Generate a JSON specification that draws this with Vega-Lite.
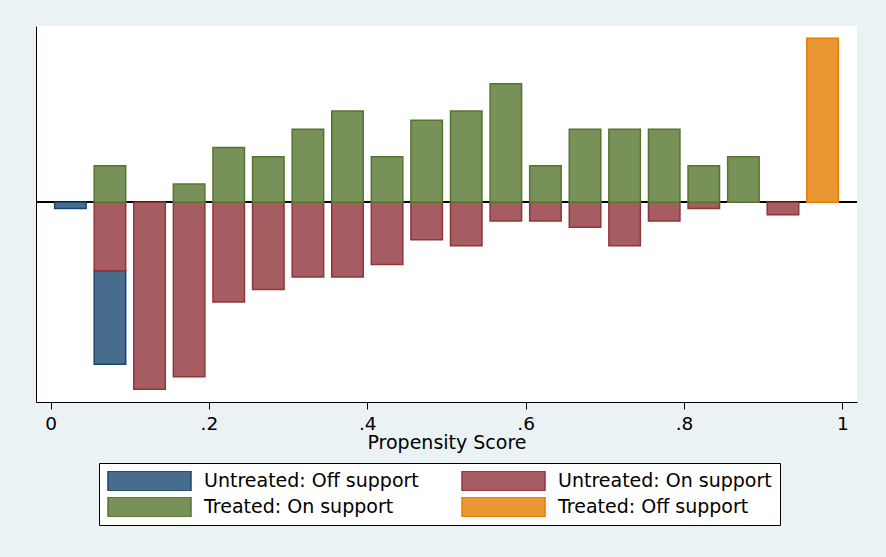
{
  "$schema": "https://vega.github.io/schema/vega-lite/v6.json",
  "width": 821,
  "height": 376,
  "autosize": {"type": "none"},
  "padding": {"left": 36, "top": 26, "right": 29, "bottom": 155},
  "background": "#EAF2F3",
  "config": {"view": {"stroke": null, "fill": "white"}, "font": "DejaVu Sans"},
  "data": {
    "values": [
      {"score": 0.025, "group": "Untreated: Off support", "value": -0.68},
      {"score": 0.075, "group": "Untreated: Off support", "value": -10.25},
      {"score": 0.075, "group": "Untreated: On support", "value": -7.51},
      {"score": 0.125, "group": "Untreated: On support", "value": -20.49},
      {"score": 0.175, "group": "Untreated: On support", "value": -19.12},
      {"score": 0.225, "group": "Untreated: On support", "value": -10.93},
      {"score": 0.275, "group": "Untreated: On support", "value": -9.56},
      {"score": 0.325, "group": "Untreated: On support", "value": -8.2},
      {"score": 0.375, "group": "Untreated: On support", "value": -8.2},
      {"score": 0.425, "group": "Untreated: On support", "value": -6.83},
      {"score": 0.475, "group": "Untreated: On support", "value": -4.1},
      {"score": 0.525, "group": "Untreated: On support", "value": -4.78},
      {"score": 0.575, "group": "Untreated: On support", "value": -2.05},
      {"score": 0.625, "group": "Untreated: On support", "value": -2.05},
      {"score": 0.675, "group": "Untreated: On support", "value": -2.73},
      {"score": 0.725, "group": "Untreated: On support", "value": -4.78},
      {"score": 0.775, "group": "Untreated: On support", "value": -2.05},
      {"score": 0.825, "group": "Untreated: On support", "value": -0.68},
      {"score": 0.925, "group": "Untreated: On support", "value": -1.37},
      {"score": 0.075, "group": "Treated: On support", "value": 4},
      {"score": 0.175, "group": "Treated: On support", "value": 2},
      {"score": 0.225, "group": "Treated: On support", "value": 6},
      {"score": 0.275, "group": "Treated: On support", "value": 5},
      {"score": 0.325, "group": "Treated: On support", "value": 8},
      {"score": 0.375, "group": "Treated: On support", "value": 10},
      {"score": 0.425, "group": "Treated: On support", "value": 5},
      {"score": 0.475, "group": "Treated: On support", "value": 9},
      {"score": 0.525, "group": "Treated: On support", "value": 10},
      {"score": 0.575, "group": "Treated: On support", "value": 13},
      {"score": 0.625, "group": "Treated: On support", "value": 4},
      {"score": 0.675, "group": "Treated: On support", "value": 8},
      {"score": 0.725, "group": "Treated: On support", "value": 8},
      {"score": 0.775, "group": "Treated: On support", "value": 8},
      {"score": 0.825, "group": "Treated: On support", "value": 4},
      {"score": 0.875, "group": "Treated: On support", "value": 5},
      {"score": 0.975, "group": "Treated: Off support", "value": 18}
    ]
  },
  "layer": [
    {
      "mark": {"type": "rule", "color": "black", "strokeWidth": 1.5},
      "encoding": {
        "y": {
          "datum": 0,
          "type": "quantitative",
          "scale": {"domain": [-21.9, 19.33], "nice": false},
          "axis": {"title": null, "labels": false, "ticks": false, "grid": false, "domain": true, "domainColor": "black", "domainWidth": 1}
        }
      }
    },
    {
      "mark": {"type": "bar", "width": 31.5, "strokeWidth": 1.5},
      "encoding": {
        "x": {
          "field": "score",
          "type": "quantitative",
          "scale": {"domain": [-0.0184, 1.0185], "nice": false, "zero": false, "padding": 0},
          "axis": {
            "values": [0, 0.2, 0.4, 0.6, 0.8, 1],
            "labelExpr": "datum.value == 0 ? '0' : datum.value == 1 ? '1' : '.' + format(datum.value * 10, 'd')",
            "title": "Propensity Score",
            "grid": false,
            "domainColor": "black",
            "domainWidth": 1,
            "tickColor": "black",
            "tickSize": 7,
            "tickWidth": 1,
            "labelFont": "DejaVu Sans",
            "labelFontSize": 18.5,
            "labelColor": "black",
            "labelPadding": 5,
            "labelFlush": false,
            "titleFont": "DejaVu Sans",
            "titleFontSize": 19,
            "titleFontWeight": "normal",
            "titleColor": "black",
            "titleY": 46,
            "titleBaseline": "alphabetic"
          }
        },
        "y": {
          "field": "value",
          "type": "quantitative",
          "stack": "zero",
          "scale": {"domain": [-21.9, 19.33], "nice": false},
          "axis": {"title": null, "labels": false, "ticks": false, "grid": false, "domain": true, "domainColor": "black", "domainWidth": 1}
        },
        "fill": {
          "field": "group",
          "type": "nominal",
          "scale": {
            "domain": ["Untreated: Off support", "Untreated: On support", "Treated: On support", "Treated: Off support"],
            "range": ["#486C8C", "#A65D62", "#779159", "#E99833"]
          },
          "legend": {
            "title": null, "orient": "none", "legendX": 63, "legendY": 437, "columns": 2, "direction": "horizontal",
            "symbolType": "M-1,-0.241H1V0.241H-1Z", "symbolSize": 6889, "symbolStrokeWidth": 1.5, "symbolOpacity": 1,
            "clipHeight": 20, "rowPadding": 6, "columnPadding": 42,
            "labelFont": "DejaVu Sans", "labelFontSize": 19, "labelColor": "black", "labelOffset": 12, "labelLimit": 400,
            "padding": 8, "strokeColor": "black", "fillColor": "white"
          }
        },
        "stroke": {
          "field": "group",
          "type": "nominal",
          "scale": {
            "domain": ["Untreated: Off support", "Untreated: On support", "Treated: On support", "Treated: Off support"],
            "range": ["#1A476F", "#90353B", "#55752F", "#E37E00"]
          },
          "legend": {
            "title": null, "orient": "none", "legendX": 63, "legendY": 437, "columns": 2, "direction": "horizontal",
            "symbolType": "M-1,-0.241H1V0.241H-1Z", "symbolSize": 6889, "symbolStrokeWidth": 1.5, "symbolOpacity": 1,
            "clipHeight": 20, "rowPadding": 6, "columnPadding": 42,
            "labelFont": "DejaVu Sans", "labelFontSize": 19, "labelColor": "black", "labelOffset": 12, "labelLimit": 400,
            "padding": 8, "strokeColor": "black", "fillColor": "white"
          }
        },
        "order": {"field": "group", "sort": "descending"}
      }
    }
  ]
}
